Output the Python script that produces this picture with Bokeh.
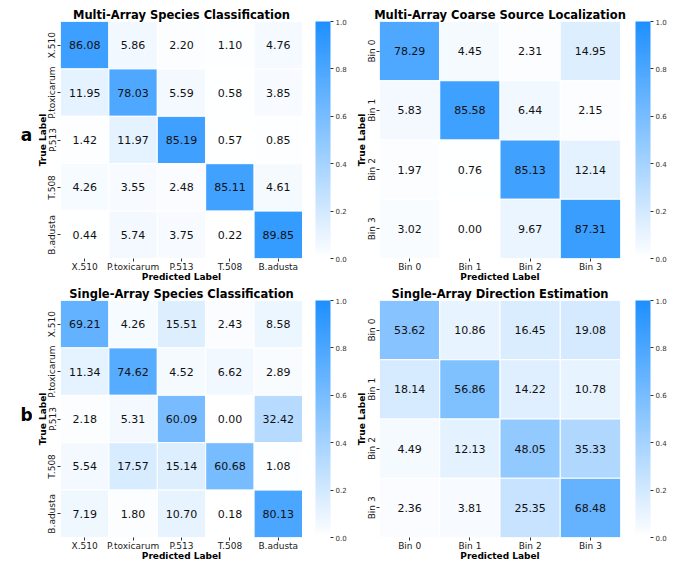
import numpy as np
from bokeh.plotting import figure
from bokeh.models import (ColumnDataSource, LinearColorMapper, ColorBar, FixedTicker,
                          FactorRange, PrintfTickFormatter, Range1d)
from bokeh.layouts import column, row
from bokeh.embed import file_html
from bokeh.resources import INLINE
from bokeh.core.properties import value

species = ["X.510", "P.toxicarum", "P.513", "T.508", "B.adusta"]
bins = ["Bin 0", "Bin 1", "Bin 2", "Bin 3"]

multi_species = [
    [86.08, 5.86, 2.20, 1.10, 4.76],
    [11.95, 78.03, 5.59, 0.58, 3.85],
    [1.42, 11.97, 85.19, 0.57, 0.85],
    [4.26, 3.55, 2.48, 85.11, 4.61],
    [0.44, 5.74, 3.75, 0.22, 89.85],
]
multi_loc = [
    [78.29, 4.45, 2.31, 14.95],
    [5.83, 85.58, 6.44, 2.15],
    [1.97, 0.76, 85.13, 12.14],
    [3.02, 0.00, 9.67, 87.31],
]
single_species = [
    [69.21, 4.26, 15.51, 2.43, 8.58],
    [11.34, 74.62, 4.52, 6.62, 2.89],
    [2.18, 5.31, 60.09, 0.00, 32.42],
    [5.54, 17.57, 15.14, 60.68, 1.08],
    [7.19, 1.80, 10.70, 0.18, 80.13],
]
single_dir = [
    [53.62, 10.86, 16.45, 19.08],
    [18.14, 56.86, 14.22, 10.78],
    [4.49, 12.13, 48.05, 35.33],
    [2.36, 3.81, 25.35, 68.48],
]
cbar_ticks = [0.0, 0.2, 0.4, 0.6, 0.8, 1.0]
panel_letters = ["a", "b"]

# white -> dodgerblue colormap
palette = []
for i in range(256):
    t = i / 255
    r = round(255 + (30 - 255) * t)
    g = round(255 + (144 - 255) * t)
    palette.append("#%02x%02x%02x" % (r, g, 255))

FONT = "DejaVu Sans"
mapper = LinearColorMapper(palette=palette, low=0, high=1)


def style_title(p):
    p.title.align = "center"
    p.title.text_font = FONT
    p.title.text_font_size = "11.5px"
    p.title.text_font_style = "bold"
    p.title.text_color = "#000000"
    p.title.standoff = 0
    p.title.offset = 0


def blank(f):
    f.grid.grid_line_color = None
    f.outline_line_color = None
    f.background_fill_color = None
    f.border_fill_color = None


def heatmap(mat, labels, title, top_border, left_border, right_border):
    xs, ys, fr, txt = [], [], [], []
    for i, rl in enumerate(labels):
        for j, cl in enumerate(labels):
            xs.append(cl)
            ys.append(rl)
            fr.append(mat[i][j] / 100.0)
            txt.append("%.2f" % mat[i][j])
    src = ColumnDataSource(dict(x=xs, y=ys, frac=fr, txt=txt))
    p = figure(x_range=FactorRange(*labels), y_range=FactorRange(*labels[::-1]),
               frame_width=241 if len(labels) == 4 else 242, frame_height=237,
               output_backend="svg", toolbar_location=None, title=title,
               min_border_left=left_border, min_border_right=right_border,
               min_border_top=top_border, min_border_bottom=0)
    p.rect(x="x", y="y", width=1, height=1, source=src,
           fill_color={"field": "frac", "transform": mapper},
           line_color="white", line_width=1)
    p.text(x="x", y="y", text="txt", source=src, text_align="center",
           text_baseline="middle", text_font=value(FONT), text_font_size="11px",
           text_color="#111111")
    style_title(p)
    blank(p)
    for ax in (p.xaxis[0], p.yaxis[0]):
        ax.axis_line_color = None
        ax.major_tick_out = 3
        ax.major_tick_in = 0
        ax.major_tick_line_color = "#333333"
        ax.major_label_text_font = FONT
        ax.major_label_text_font_size = "9px"
        ax.major_label_text_color = "#1a1a1a"
        ax.axis_label_text_font = FONT
        ax.axis_label_text_font_size = "9px"
        ax.axis_label_text_font_style = "bold"
        ax.axis_label_text_color = "#000000"
        ax.major_label_standoff = 0
        ax.axis_label_standoff = -3
    p.xaxis.axis_label = "Predicted Label"
    p.yaxis.axis_label = "True Label"
    p.yaxis.major_label_orientation = "vertical"
    return p


def colorbar_fig(top_border, gap):
    f = figure(frame_width=gap, frame_height=237, x_range=(0, 1), y_range=(0, 1),
               output_backend="svg", toolbar_location=None, title=" ",
               min_border_left=0, min_border_right=36,
               min_border_top=top_border, min_border_bottom=10)
    f.axis.visible = False
    style_title(f)
    blank(f)
    cb = ColorBar(color_mapper=mapper, ticker=FixedTicker(ticks=cbar_ticks),
                  formatter=PrintfTickFormatter(format="%.1f"),
                  width=15, padding=0, margin=0,
                  major_label_text_font=FONT, major_label_text_font_size="7px",
                  major_label_text_color="#333333",
                  major_tick_out=3, major_tick_in=0, major_tick_line_color="#333333",
                  label_standoff=2, bar_line_color=None,
                  background_fill_alpha=0, border_line_color=None)
    f.add_layout(cb, "right")
    return f


def letter_fig(letter, cy):
    f = figure(width=32, height=280, x_range=Range1d(0, 32), y_range=Range1d(280, 0),
               output_backend="svg", toolbar_location=None, min_border=0)
    f.axis.visible = False
    blank(f)
    f.text(x=[26], y=[cy], text=[letter], text_align="center", text_baseline="middle",
           text_font=value(FONT), text_font_size="17px", text_font_style="bold",
           text_color="#000000")
    return f


p1 = heatmap(multi_species, species, "Multi-Array Species Classification", 21, 28, 0)
p2 = heatmap(multi_loc, bins, "Multi-Array Coarse Source Localization", 21, 28, 10)
p3 = heatmap(single_species, species, "Single-Array Species Classification", 0, 28, 0)
p4 = heatmap(single_dir, bins, "Single-Array Direction Estimation", 0, 28, 10)

top = row(letter_fig(panel_letters[0], 136), p1, colorbar_fig(21, 13), p2, colorbar_fig(21, 5))
bottom = row(letter_fig(panel_letters[1], 135), p3, colorbar_fig(0, 13), p4, colorbar_fig(0, 5))
layout = column(top, bottom)
open("out.html", "w").write(file_html(layout, INLINE))
